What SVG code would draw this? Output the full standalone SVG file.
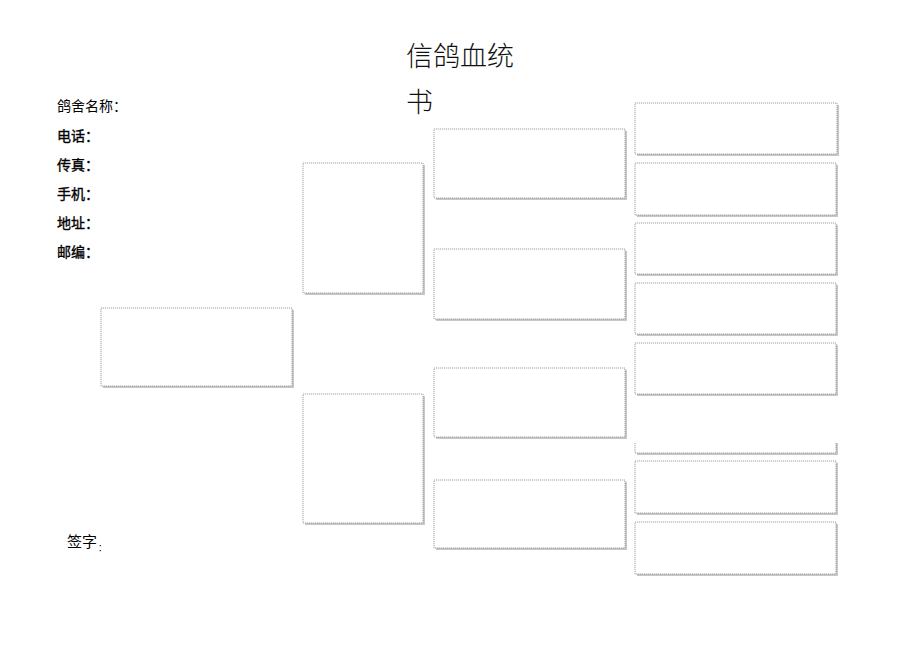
<svg xmlns="http://www.w3.org/2000/svg" width="920" height="651" viewBox="0 0 920 651">
<style>
.sh{fill:#c8c8c8;stroke:none}
.bx{fill:#fff;stroke:#8a8a8a;stroke-width:0.8;stroke-dasharray:1.2 0.8}
.ln{fill:none;stroke:#8a8a8a;stroke-width:0.8;stroke-dasharray:1.2 0.8}
.t{font-family:"Noto Sans CJK SC","Noto Sans",sans-serif;fill:#000}
.lb{font-size:14px;stroke:#000;stroke-width:0.35}
.ttl{font-size:27px;font-weight:300;fill:#111}
</style>
<rect width="920" height="651" fill="#fff"/>
<g id="title">
<text class="t ttl" x="406" y="66">信鸽血统</text>
<text class="t ttl" x="406" y="112">书</text>
</g>
<g id="info">
<text class="t" x="57" y="111" font-size="14" fill="#555">鸽舍名称：</text>
<text class="t lb" x="57" y="141">电话：</text>
<text class="t lb" x="57" y="170">传真：</text>
<text class="t lb" x="57" y="199">手机：</text>
<text class="t lb" x="57" y="228">地址：</text>
<text class="t lb" x="57" y="257">邮编：</text>
<text class="t" x="67" y="547" font-size="15">签字</text>
<text class="t" x="98" y="551" font-size="9">：</text>
</g>
<g id="connectors"></g>
<g id="n0"><rect class="sh" x="103" y="310" width="191" height="78"/><rect class="bx" x="101" y="308" width="191" height="78"/></g>
<g id="n1"><rect class="sh" x="305" y="165" width="120" height="130"/><rect class="bx" x="303" y="163" width="120" height="130"/></g>
<g id="n2"><rect class="sh" x="305" y="396" width="120" height="129"/><rect class="bx" x="303" y="394" width="120" height="129"/></g>
<g id="n3"><rect class="sh" x="436" y="131" width="191" height="69"/><rect class="bx" x="434" y="129" width="191" height="69"/></g>
<g id="n4"><rect class="sh" x="436" y="251" width="191" height="70"/><rect class="bx" x="434" y="249" width="191" height="70"/></g>
<g id="n5"><rect class="sh" x="436" y="370" width="191" height="69"/><rect class="bx" x="434" y="368" width="191" height="69"/></g>
<g id="n6"><rect class="sh" x="436" y="482" width="191" height="68"/><rect class="bx" x="434" y="480" width="191" height="68"/></g>
<g id="n7"><rect class="sh" x="637" y="105" width="202" height="51"/><rect class="bx" x="635" y="103" width="202" height="51"/></g>
<g id="n8"><rect class="sh" x="637" y="165" width="201" height="52"/><rect class="bx" x="635" y="163" width="201" height="52"/></g>
<g id="n9"><rect class="sh" x="637" y="225" width="201" height="51"/><rect class="bx" x="635" y="223" width="201" height="51"/></g>
<g id="n10"><rect class="sh" x="637" y="285" width="201" height="51"/><rect class="bx" x="635" y="283" width="201" height="51"/></g>
<g id="n11"><rect class="sh" x="637" y="345" width="201" height="51"/><rect class="bx" x="635" y="343" width="201" height="51"/></g>
<g id="n12"><path class="sh" d="M637 453h201v2h-201z M836 443h2v10h-2z"/><path class="ln" d="M635 443V453H836V443"/></g>
<g id="n13"><rect class="sh" x="637" y="463" width="201" height="52"/><rect class="bx" x="635" y="461" width="201" height="52"/></g>
<g id="n14"><rect class="sh" x="637" y="524" width="201" height="52"/><rect class="bx" x="635" y="522" width="201" height="52"/></g>
</svg>
